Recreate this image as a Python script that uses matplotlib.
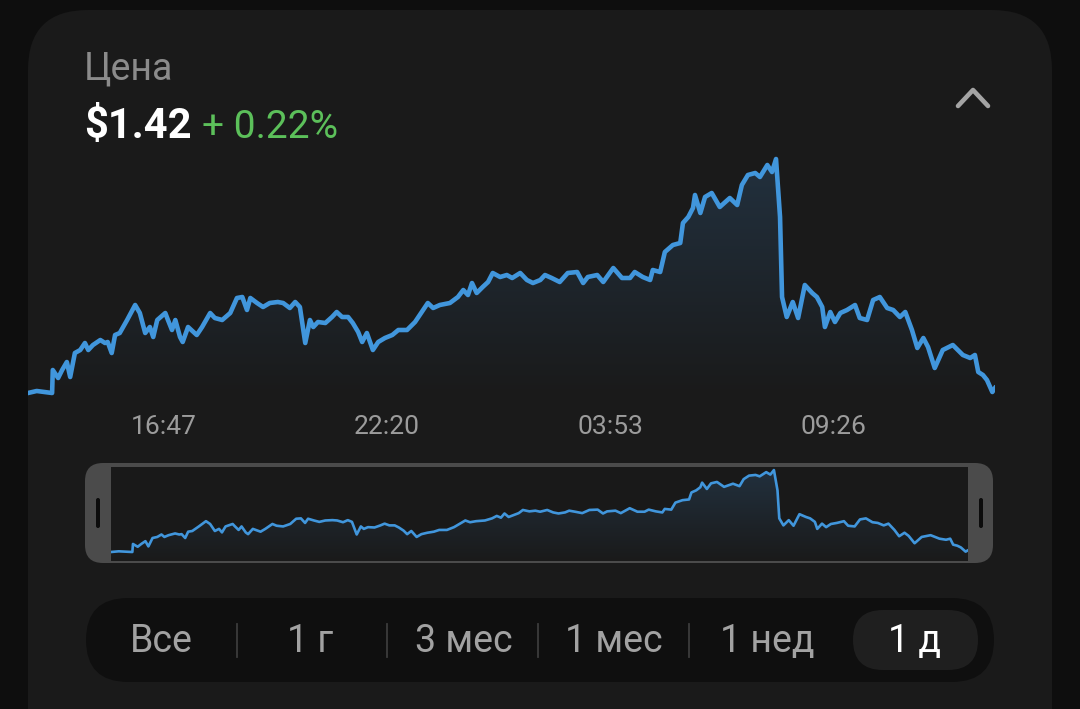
import numpy as np
import pandas as pd
import matplotlib
matplotlib.use('Agg')
import matplotlib.pyplot as plt
import matplotlib.dates as mdates
import matplotlib.colors as mcolors
from matplotlib.patches import FancyBboxPatch

plt.rcParams['font.family'] = ['Roboto', 'DejaVu Sans']

# minutes since 13:24
minutes = [0, 13, 36, 37, 45, 51, 58, 63, 70, 78, 85, 90, 97, 108, 115, 119, 125, 130, 137, 148,
           160, 167, 175, 182, 187, 193, 205, 209, 215, 220, 227, 231, 239, 252, 260, 272, 279, 290,
           302, 312, 320, 327, 332, 342, 351, 361, 373, 381, 391, 399, 406, 414, 421, 426, 433, 444,
           454, 461, 469, 478, 485, 493, 499, 506, 515, 523, 533, 544, 553, 566, 578, 588, 597, 605,
           615, 630, 642, 650, 657, 663, 670, 679, 687, 694, 705, 715, 723, 735, 745, 754, 765, 772,
           782, 794, 806, 820, 829, 836, 850, 859, 874, 887, 899, 906, 918, 929, 933, 944, 951, 963,
           974, 978, 986, 993, 996, 1004, 1011, 1021, 1033, 1048, 1059, 1066, 1075, 1086, 1093, 1104,
           1111, 1117, 1123, 1126, 1133, 1142, 1150, 1160, 1171, 1178, 1186, 1190, 1198, 1205, 1213,
           1223, 1235, 1242, 1253, 1262, 1272, 1283, 1292, 1302, 1310, 1320, 1328, 1337, 1344, 1354,
           1366, 1381, 1396, 1407, 1414, 1419, 1426, 1432, 1440, 1444]
prices = [1.4185, 1.4191, 1.4185, 1.4254, 1.4230, 1.4254, 1.4278, 1.4233, 1.4305, 1.4314, 1.4335,
          1.4314, 1.4329, 1.4344, 1.4335, 1.4338, 1.4305, 1.4359, 1.4365, 1.4404, 1.4449, 1.4425,
          1.4365, 1.4383, 1.4353, 1.4404, 1.4425, 1.4404, 1.4374, 1.4404, 1.4353, 1.4338, 1.4383,
          1.4359, 1.4383, 1.4425, 1.4410, 1.4404, 1.4425, 1.4470, 1.4473, 1.4434, 1.4470, 1.4455,
          1.4443, 1.4455, 1.4458, 1.4455, 1.4440, 1.4458, 1.4443, 1.4335, 1.4404, 1.4383, 1.4398,
          1.4395, 1.4413, 1.4428, 1.4413, 1.4413, 1.4395, 1.4368, 1.4338, 1.4365, 1.4314, 1.4338,
          1.4350, 1.4359, 1.4374, 1.4374, 1.4398, 1.4428, 1.4455, 1.4440, 1.4449, 1.4455, 1.4473,
          1.4494, 1.4479, 1.4515, 1.4485, 1.4503, 1.4518, 1.4545, 1.4533, 1.4539, 1.4530, 1.4545,
          1.4524, 1.4515, 1.4524, 1.4539, 1.4530, 1.4518, 1.4545, 1.4548, 1.4515, 1.4533, 1.4539,
          1.4518, 1.4560, 1.4530, 1.4530, 1.4548, 1.4533, 1.4524, 1.4554, 1.4548, 1.4608, 1.4629,
          1.4635, 1.4695, 1.4713, 1.4740, 1.4779, 1.4725, 1.4773, 1.4785, 1.4743, 1.4770, 1.4749,
          1.4809, 1.4839, 1.4845, 1.4833, 1.4869, 1.4848, 1.4887, 1.4713, 1.4473, 1.4413, 1.4458,
          1.4410, 1.4509, 1.4485, 1.4473, 1.4443, 1.4383, 1.4428, 1.4398, 1.4425, 1.4434, 1.4449,
          1.4410, 1.4404, 1.4464, 1.4473, 1.4440, 1.4434, 1.4413, 1.4428, 1.4374, 1.4320, 1.4350,
          1.4323, 1.4260, 1.4314, 1.4329, 1.4299, 1.4290, 1.4299, 1.4248, 1.4239, 1.4224, 1.4188,
          1.4200]
tick_times = ['16:47', '22:20', '03:53', '09:26']
ranges = ['Все', '1 г', '3 мес', '1 мес', '1 нед', '1 д']
selected = '1 д'
title = 'Цена'
price_text = '$1.42'
change_text = '+ 0.22%'

OUTER = '#0e0e0e'
CARD = '#1a1a1a'
BLUE = '#4196dc'
GRAY = '#a2a2a2'

start = pd.Timestamp('2024-01-01 13:24')
times = [start + pd.Timedelta(minutes=m) for m in minutes]
tnum = mdates.date2num(times)
ticks = []
for lbl in tick_times:
    t = pd.Timestamp('2024-01-01 ' + lbl)
    if t < start:
        t += pd.Timedelta(days=1)
    ticks.append(mdates.date2num(t))

W, H = 1080, 709
fig = plt.figure(figsize=(W / 100, H / 100), dpi=100)
fig.patch.set_facecolor(OUTER)

# background axes in pixel coordinates for the card chrome
bg = fig.add_axes([0, 0, 1, 1])
bg.set_xlim(0, W)
bg.set_ylim(H, 0)
bg.axis('off')


def rbox(x0, y0, x1, y1, r, color, z=1):
    p = FancyBboxPatch((x0 + r, y0 + r), x1 - x0 - 2 * r, y1 - y0 - 2 * r,
                       boxstyle='round,pad=%f' % r, fc=color, ec='none', zorder=z)
    bg.add_patch(p)


rbox(28, 10, 1052, 800, 60, CARD)
bg.text(84, 80, title, color='#8b8b8b', fontsize=27, va='baseline', zorder=5)
bg.text(84, 138, price_text, color='white', fontsize=30, fontweight='bold', va='baseline', zorder=5)
bg.text(202, 138, change_text, color='#5cc05a', fontsize=28, va='baseline', zorder=5)
bg.plot([958, 973, 988], [106, 90, 106], color='#a4a4a4', lw=3.3, solid_capstyle='round',
        solid_joinstyle='round', zorder=5)

# navigator frame
rbox(85, 463, 993, 563, 18, '#4b4b4b', 2)
bg.add_patch(plt.Rectangle((111, 467), 857, 94, fc='#191919', ec='none', zorder=3))
rbox(96, 498, 100, 528, 2, '#0c0c0c', 4)
rbox(979, 498, 983, 528, 2, '#0c0c0c', 4)

# range selector
rbox(86, 598, 994, 682, 42, '#0f0f0f', 2)
rbox(853, 610, 978, 670, 30, '#1f1f1f', 3)
label_x = [161, 310, 464, 614, 767, 915]
for lx, lbl in zip(label_x, ranges):
    col = 'white' if lbl == selected else GRAY
    bg.text(lx, 641, lbl, color=col, fontsize=27, ha='center', va='center', zorder=5)
for sx in [237, 387, 538, 689]:
    bg.plot([sx, sx], [624, 657], color='#3c3c3c', lw=1.3, zorder=4)


def price_axes(rect, ylim, lw, top_col):
    ax = fig.add_axes(rect)
    ax.set_facecolor('none')
    ax.plot(times, prices, color=BLUE, lw=lw, solid_joinstyle='round', zorder=3)
    grad = np.linspace(1, 0, 256).reshape(-1, 1, 1)
    c_top = np.array(mcolors.to_rgb(top_col))
    c_bot = np.array(mcolors.to_rgb(CARD))
    img = c_bot + (c_top - c_bot) * grad
    im = ax.imshow(img, aspect='auto', extent=[tnum[0], tnum[-1], ylim[0], ylim[1]],
                   origin='upper', zorder=1, interpolation='bilinear')
    poly = ax.fill_between(times, prices, ylim[0], color='none', lw=0)
    im.set_clip_path(poly.get_paths()[0], transform=ax.transData)
    ax.set_xlim(tnum[0], tnum[-1])
    ax.set_ylim(*ylim)
    for s in ax.spines.values():
        s.set_visible(False)
    ax.set_yticks([])
    return ax


ax = price_axes([28 / W, (H - 396) / H, 967 / W, 241 / H], (1.4176, 1.4899), 3.3, '#22313f')
ax.set_xticks(ticks)
ax.xaxis.set_major_formatter(mdates.DateFormatter('%H:%M'))
ax.tick_params(axis='x', length=0, pad=14, labelsize=19, labelcolor='#9c9c9c')

mini = price_axes([111 / W, (H - 561) / H, 857 / W, 94 / H], (1.4108, 1.4913), 1.9, '#22313f')
mini.set_xticks([])

fig.savefig('out.png', dpi=100, facecolor=OUTER)
